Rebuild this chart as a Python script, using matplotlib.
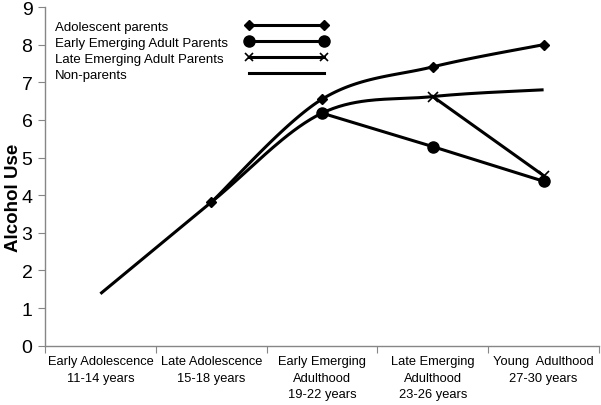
import numpy as np
import matplotlib.pyplot as plt
from matplotlib.lines import Line2D

plt.rcParams['font.family'] = ['Liberation Sans', 'DejaVu Sans']

# datos
stages = ["Early Adolescence\n11-14 years", "Late Adolescence\n15-18 years",
          "Early Emerging\nAdulthood\n19-22 years", "Late Emerging\nAdulthood\n23-26 years",
          "Young  Adulthood\n27-30 years"]
stagePos = [1, 2, 3, 4, 5]

adolX = [2, 3, 4, 5]
adolY = [3.81, 6.55, 7.41, 8.00]

earlyX = [3, 4, 5]
earlyY = [6.18, 5.29, 4.37]

lateX = [4, 5]
lateY = [6.62, 4.52]

nonX = [1, 2, 3, 4, 5]
nonY = [1.38, 3.81, 6.18, 6.62, 6.80]

legendLabels = ["Adolescent parents", "Early Emerging Adult Parents",
                "Late Emerging Adult Parents", "Non-parents"]


def smoothLine(xs, ys, n=40):
    # curva suavizada estilo Excel (bezier con tangentes de Catmull-Rom)
    pts = np.column_stack([xs, ys]).astype(float)
    out = [pts[0]]
    t = np.linspace(0, 1, n)[1:, None]
    for i in range(len(pts) - 1):
        p0 = pts[max(i - 1, 0)]
        p1 = pts[i]
        p2 = pts[i + 1]
        p3 = pts[min(i + 2, len(pts) - 1)]
        c1 = p1 + (p2 - p0) / 6
        c2 = p2 - (p3 - p1) / 6
        seg = (1 - t)**3 * p1 + 3 * (1 - t)**2 * t * c1 + 3 * (1 - t) * t**2 * c2 + t**3 * p2
        out.extend(seg)
    out = np.array(out)
    return out[:, 0], out[:, 1]


fig = plt.figure(figsize=(6.01, 4.06), dpi=100)
ax = fig.add_axes([45 / 601, 1 - 346.7 / 406, 554 / 601, 338.7 / 406])

lw = 2.2
sx, sy = smoothLine(nonX, nonY)
ax.plot(sx, sy, color='black', lw=lw, solid_capstyle='butt')
sx, sy = smoothLine(adolX, adolY)
ax.plot(sx, sy, color='black', lw=lw, solid_capstyle='butt')
ax.plot(adolX, adolY, linestyle='none', marker='D', ms=5.5, color='black')
ax.plot(earlyX, earlyY, color='black', lw=lw, marker='o', ms=8)
ax.plot(lateX, lateY, color='black', lw=lw, marker='x', ms=7, mew=1.2)

ax.set_xlim(0.5, 5.5)
ax.set_ylim(0, 9)
ax.set_yticks(range(0, 10))
ax.set_xticks(np.arange(0.5, 5.6, 1))
ax.set_xticklabels([])
ax.set_xticks(stagePos, minor=True)
ax.set_xticklabels(stages, minor=True, fontsize=9.3, linespacing=1.5, va='top')
ax.tick_params(axis='x', which='minor', length=0, pad=7)
ax.tick_params(axis='x', which='major', length=5, color='#868686', direction='out')
ax.tick_params(axis='y', length=5, color='#868686', direction='out', labelsize=14, pad=4)
for s in ['top', 'right']:
    ax.spines[s].set_visible(False)
for s in ['left', 'bottom']:
    ax.spines[s].set_color('#868686')
    ax.spines[s].set_linewidth(1.0)

ax.set_ylabel("Alcohol Use", fontsize=13.5, fontweight='bold')
ax.yaxis.set_label_coords(-0.041, 0.44)

# leyenda: texto a la izquierda, claves alineadas a la derecha
keys = [Line2D([], [], color='black', lw=lw, marker='D', ms=5.5),
        Line2D([], [], color='black', lw=lw, marker='o', ms=8),
        Line2D([], [], color='black', lw=lw, marker='x', ms=6, mew=1.2),
        Line2D([], [], color='black', lw=lw)]
blank = [Line2D([], [], linestyle='none') for _ in keys]
top = 1 - 21.6 / 406
legText = fig.legend(blank, legendLabels, loc='upper left', bbox_to_anchor=(55 / 601, top),
                     frameon=False, fontsize=9.5, handlelength=0, handletextpad=0,
                     borderpad=0, borderaxespad=0, labelspacing=0.28)
legKeys = fig.legend(keys, [''] * 4, loc='upper left', bbox_to_anchor=(245 / 601, top),
                     frameon=False, fontsize=9.5, handlelength=6.3, handletextpad=0,
                     borderpad=0, borderaxespad=0, labelspacing=0.28, numpoints=2)

fig.savefig('out.png', dpi=100)
